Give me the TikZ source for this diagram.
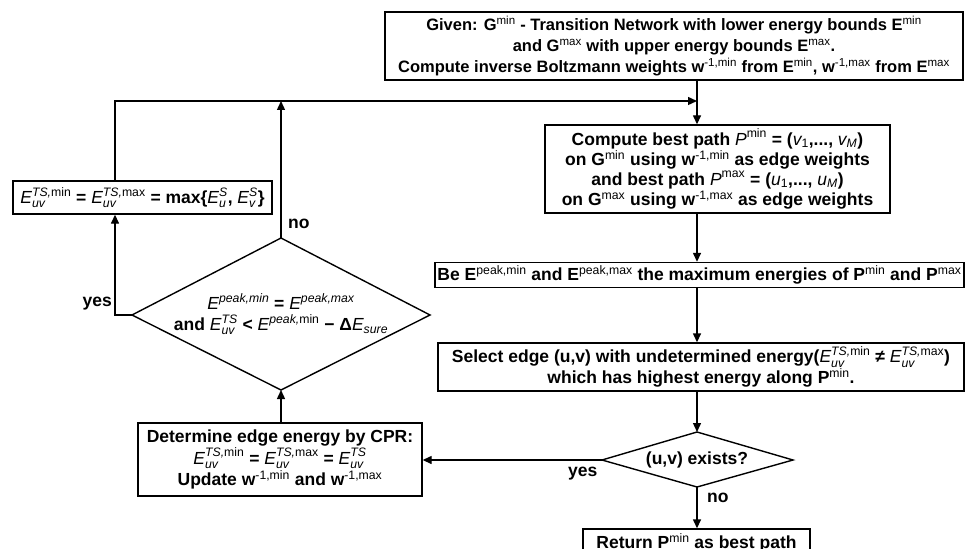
\documentclass[tikz,border=0pt]{standalone}
\usepackage{fontspec}
\usepackage{amsmath}
\setmainfont{Liberation Sans}
\usetikzlibrary{arrows.meta}
\newcommand{\mE}{\text{\normalfont\itshape E}}
\newcommand{\mI}[1]{\text{\normalfont\itshape #1}}
\newcommand{\mR}[1]{\text{\normalfont #1}}
\newcommand{\sps}[1]{\textsuperscript{\normalfont #1}}
\tikzset{
  box/.style={draw, line width=1.4pt, inner sep=0pt, align=center, font=\fontsize{17.5}{20}\selectfont\bfseries},
  lbl/.style={inner sep=0pt, font=\fontsize{17.5}{20}\selectfont\bfseries},
  arr/.style={line width=1.4pt, -{Triangle[length=9pt,width=8pt]}},
  ln/.style={line width=1.4pt}
}
\begin{document}
\begin{tikzpicture}[x=1pt,y=-1pt]
\clip (0,0) rectangle (965,548);
\fill[white] (0,0) rectangle (965,548);
\coordinate (mx) at (697,0);
\coordinate (lx) at (115,0);
\coordinate (join) at (697,101);

\node[box, minimum width=578pt, minimum height=68pt, font=\fontsize{16.5}{21}\selectfont\bfseries] (top) at (674,46)
 {Given: G\sps{min} - Transition Network with lower energy bounds E\sps{min}\\
  and G\sps{max} with upper energy bounds E\sps{max}.\\
  Compute inverse Boltzmann weights w\sps{-1,min} from E\sps{min}, w\sps{-1,max} from E\sps{max}};

\node[box, minimum width=345pt, minimum height=88pt] (comp) at (717.5,169)
 {Compute best path $\mI{P}^{\mR{min}}$ = ($\mI{v}_{\mR{1}}$,..., $\mI{v}_{\mI{M}}$)\\
  on G\sps{min} using w\sps{-1,min} as edge weights\\
  and best path $\mI{P}^{\mR{max}}$ = ($\mI{u}_{\mR{1}}$,..., $\mI{u}_{\mI{M}}$)\\
  on G\sps{max} using w\sps{-1,max} as edge weights};

\node[box, minimum width=529pt, minimum height=25pt] (be) at (699.5,275)
 {Be E\sps{peak,min} and E\sps{peak,max} the maximum energies of P\sps{min} and P\sps{max}};

\node[box, minimum width=526pt, minimum height=48pt, font=\fontsize{17.5}{21}\selectfont\bfseries] (sel) at (701,367)
 {Select edge (u,v) with undetermined energy($\mE^{\mI{TS,}\mR{min}}_{\mI{uv}}$ ≠ $\mE^{\mI{TS,}\mR{max}}_{\mI{uv}}$)\\
  which has highest energy along P\sps{min}.};

% (u,v) exists? diamond
\coordinate (uvN) at (697,432);
\coordinate (uvE) at (793,460);
\coordinate (uvS) at (697,487);
\coordinate (uvW) at (602,460);
\draw[ln] (uvN) -- (uvE) -- (uvS) -- (uvW) -- cycle;
\node[lbl] (uv) at (697,460) {(u,v) exists?};

\node[box, minimum width=227pt, minimum height=28pt] (ret) at (696.5,543)
 {Return P\sps{min} as best path};

\node[box, minimum width=284pt, minimum height=73pt, font=\fontsize{17.5}{21.5}\selectfont\bfseries] (cpr) at (280,459.5)
 {Determine edge energy by CPR:\\
  $\mE^{\mI{TS,}\mR{min}}_{\mI{uv}}$ = $\mE^{\mI{TS,}\mR{max}}_{\mI{uv}}$ = $\mE^{\mI{TS}}_{\mI{uv}}$\\
  Update w\sps{-1,min} and w\sps{-1,max}};

% left diamond
\coordinate (dN) at (281,238);
\coordinate (dE) at (430,315);
\coordinate (dS) at (281,390);
\coordinate (dW) at (132,315);
\draw[ln] (dN) -- (dE) -- (dS) -- (dW) -- cycle;
\node[lbl, align=center, font=\fontsize{17.5}{21}\selectfont\bfseries] (dia) at (281,314)
 {$\mE^{\mI{peak,min}}$ = $\mE^{\mI{peak,max}}$\\
  and $\mE^{\mI{TS}}_{\mI{uv}}$ < $\mE^{\mI{peak,}\mR{min}}$ − Δ$\mE_{\mI{sure}}$};

\node[box, minimum width=259pt, minimum height=33pt] (ebox) at (142.5,197.5)
 {$\mE^{\mI{TS,}\mR{min}}_{\mI{uv}}$ = $\mE^{\mI{TS,}\mR{max}}_{\mI{uv}}$ = max\{$\mE^{\mI{S}}_{\mI{u}}$, $\mE^{\mI{S}}_{\mI{v}}$\}};

% connectors
\draw[arr] (top.south -| mx) -- (comp.north -| mx);
\draw[arr] (comp.south -| mx) -- (be.north -| mx);
\draw[arr] (be.south -| mx) -- (sel.north -| mx);
\draw[arr] (sel.south -| mx) -- (uvN);
\draw[arr] (uvS) -- (ret.north -| uvS);
\draw[arr] (uvW) -- (cpr.east |- uvW);
\draw[arr] (cpr.north -| dS) -- (dS);
\draw[arr] (dW) -- (dW -| lx) -- (ebox.south -| lx);
\draw[arr] (ebox.north -| lx) |- (join);
\draw[arr] (dN) -- (dN |- join);

\node[lbl, anchor=west] (no1) at (288,224) {no};
\node[lbl, anchor=east] (yes1) at (112,304) {yes};
\node[lbl, anchor=west] (yes2) at (568,474) {yes};
\node[lbl, anchor=west] (no2) at (707,498) {no};
\end{tikzpicture}
\end{document}
